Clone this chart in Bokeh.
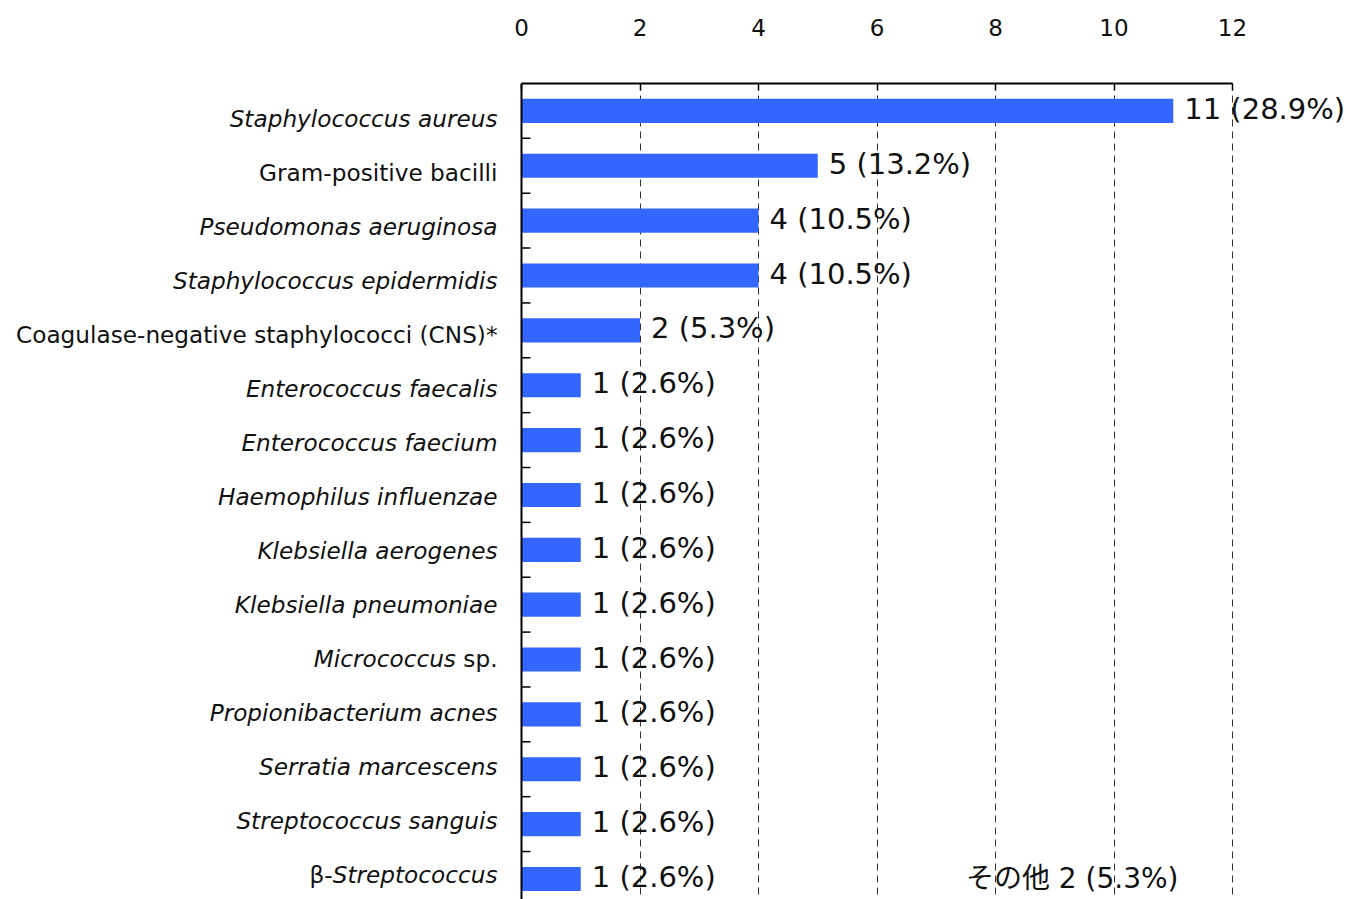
from bokeh.plotting import figure
from bokeh.models import (ColumnDataSource, Label, Range1d, FixedTicker, Span)
from bokeh.embed import file_html
from bokeh.resources import INLINE

# ---------------- data ----------------
categories = [
    "Staphylococcus aureus",
    "Gram-positive bacilli",
    "Pseudomonas aeruginosa",
    "Staphylococcus epidermidis",
    "Coagulase-negative staphylococci (CNS)*",
    "Enterococcus faecalis",
    "Enterococcus faecium",
    "Haemophilus influenzae",
    "Klebsiella aerogenes",
    "Klebsiella pneumoniae",
    "Micrococcus sp.",
    "Propionibacterium acnes",
    "Serratia marcescens",
    "Streptococcus sanguis",
    "β-Streptococcus",
]
counts = [11, 5, 4, 4, 2, 1, 1, 1, 1, 1, 1, 1, 1, 1, 1]
percents = ["28.9", "13.2", "10.5", "10.5", "5.3", "2.6", "2.6", "2.6",
            "2.6", "2.6", "2.6", "2.6", "2.6", "2.6", "2.6"]
x_ticks = [0, 2, 4, 6, 8, 10, 12]
other_label = "その他"
other_count = 2
other_percent = "5.3"

# label parts: (text, italic?) from left to right
label_parts = [
    [("Staphylococcus aureus", True)],
    [("Gram-positive bacilli", False)],
    [("Pseudomonas aeruginosa", True)],
    [("Staphylococcus epidermidis", True)],
    [("Coagulase-negative staphylococci (CNS)*", False)],
    [("Enterococcus faecalis", True)],
    [("Enterococcus faecium", True)],
    [("Haemophilus influenzae", True)],
    [("Klebsiella aerogenes", True)],
    [("Klebsiella pneumoniae", True)],
    [("Micrococcus", True), ("\u00a0sp.", False)],
    [("Propionibacterium acnes", True)],
    [("Serratia marcescens", True)],
    [("Streptococcus sanguis", True)],
    [("β-", False), ("Streptococcus", True)],
]

# ---------------- style / layout ----------------
FONT = "DejaVu Sans"
LABEL_SIZE = 23.2
VALUE_SIZE = 29
BAR_COLOR = "#3366ff"
TEXT_COLOR = "#111111"

W, H = 1346, 899
TOP = 83                 # top of plotting area (axis line)
AXIS_LEFT_PX = 521       # pixel position of value 0
AXIS_WIDTH_PX = 711      # pixel length of 0..12
ROW_PX = 54.86           # pixel height of one category row (bars)
LABEL_ROW_PX = 54.0      # category labels are spaced slightly tighter
LABEL_DROP_PX = 8        # first label sits a little below its bar

x_max = x_ticks[-1]
ppu = AXIS_WIDTH_PX / x_max
x_start = -AXIS_LEFT_PX / ppu
x_end = (W - AXIS_LEFT_PX) / ppu
y_top = -0.5
y_bottom = y_top + (H - TOP) / ROW_PX

# approximate DejaVu Sans advance widths (em) for offsets of mixed-style labels
EM = {" ": .318, "\u00a0": .318, "s": .521, "p": .635, ".": .318, "S": .635, "t": .392,
      "r": .411, "e": .615, "o": .612, "c": .55, "u": .634}


def text_width(t):
    return sum(EM.get(ch, 0.6) for ch in t) * LABEL_SIZE


n = len(categories)
rows = list(range(n))

p = figure(width=W, height=H, output_backend="svg", toolbar_location=None,
           x_range=Range1d(x_start, x_end), y_range=Range1d(y_bottom, y_top),
           x_axis_location="above",
           min_border_left=0, min_border_right=0, min_border_top=TOP,
           min_border_bottom=0)
p.frame_height = H - TOP
p.frame_width = W
p.outline_line_color = None
p.background_fill_color = "white"
p.border_fill_color = "white"
p.yaxis.visible = False

bar_src = ColumnDataSource(dict(y=rows, right=counts))
p.hbar(y="y", left=0, right="right", height=0.44, source=bar_src,
       fill_color=BAR_COLOR, line_color=None)

# top value axis
xa = p.xaxis[0]
xa.ticker = FixedTicker(ticks=x_ticks)
xa.bounds = (x_ticks[0], x_ticks[-1])
xa.axis_line_width = 2
xa.axis_line_color = "black"
xa.major_tick_in = 7
xa.major_tick_out = 0
xa.major_tick_line_color = "black"
xa.major_tick_line_width = 1.5
xa.minor_tick_line_color = None
xa.major_label_standoff = 48
xa.major_label_text_font = FONT
xa.major_label_text_font_size = "23px"
xa.major_label_text_color = TEXT_COLOR

# category axis line at value 0, with inward ticks between rows
p.add_layout(Span(location=0, dimension="height", line_color="black", line_width=2))
boundaries = [i + 0.5 for i in range(n - 1)]
p.ray(x=[0] * len(boundaries), y=boundaries, length=9, length_units="screen",
      angle=0, line_color="black", line_width=1.5)

p.xgrid.ticker = FixedTicker(ticks=x_ticks[1:])
p.xgrid.grid_line_color = "#333333"
p.xgrid.grid_line_dash = "7 5"
p.xgrid.grid_line_width = 1
p.ygrid.grid_line_color = None

# value labels
for r, c, pc in zip(rows, counts, percents):
    p.add_layout(Label(x=c, y=r, text=f"{c} ({pc}%)", x_offset=11, y_offset=2,
                       text_align="left", text_baseline="middle", text_font=FONT,
                       text_font_size=f"{VALUE_SIZE}px", text_color=TEXT_COLOR))

# category labels (mixed italic / normal)
for r, parts in zip(rows, label_parts):
    offset = -24.0
    drop = LABEL_DROP_PX + r * (LABEL_ROW_PX - ROW_PX)
    for txt, ital in reversed(parts):
        p.add_layout(Label(x=0, y=r, text=txt, x_offset=offset, y_offset=-drop,
                           text_align="right", text_baseline="middle",
                           text_font=FONT, text_font_style="italic" if ital else "normal",
                           text_font_size=f"{LABEL_SIZE}px", text_color=TEXT_COLOR))
        offset -= text_width(txt)

# "others" note
p.add_layout(Label(x=x_max, y=n - 1, text=f"{other_label} {other_count} ({other_percent}%)",
                   x_offset=-54, y_offset=0, text_align="right", text_baseline="middle",
                   text_font="DejaVu Sans, Noto Sans CJK JP",
                   text_font_size="28px", text_color=TEXT_COLOR))

open("out.html", "w").write(file_html(p, INLINE))
